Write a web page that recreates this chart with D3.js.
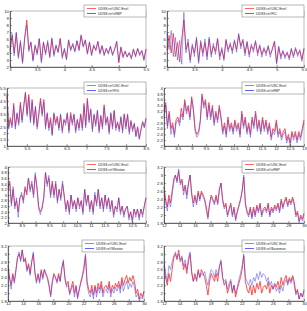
<!DOCTYPE html>
<html>
<head>
<meta charset="utf-8">
<script src="https://cdn.jsdelivr.net/npm/d3@7"></script>
<style>
  body { margin: 0; background: #fff; }
  svg { display: block; font-family: "Liberation Sans", Arial, sans-serif; }
</style>
</head>
<body>
<div id="chart"></div>
<script>
// values, left to right along each panel's x range

// panels 1 and 2 (x 3 - 5.5)
const enelA = [4.4, 6.5, 4.0, 6.8, 3.5, 5.5, 2.7, 6.0, 8.7, 4.5, 5.5, 3.0, 5.0, 4.0, 6.0, 2.8, 5.5, 4.0, 5.5, 3.5, 6.0, 3.8, 5.0, 4.2, 6.1, 3.5, 4.5, 3.2, 5.8, 4.5, 5.2, 4.3, 5.7, 4.5, 6.6, 5.0, 5.8, 4.0, 5.5, 3.8, 5.0, 4.5, 5.6, 4.0, 5.0, 3.8, 4.6, 4.0, 4.9, 3.8, 4.5, 5.7, 2.6, 4.8, 3.5, 4.2, 3.5, 4.0, 3.3, 4.5, 3.6, 4.6, 3.8, 4.3, 3.1, 4.6];
const nfbpA = [4.0, 6.8, 3.6, 7.0, 3.2, 5.8, 2.5, 6.2, 8.0, 4.2, 5.6, 2.8, 5.2, 3.7, 6.1, 2.6, 5.6, 3.7, 5.8, 3.3, 6.2, 3.5, 5.2, 4.0, 6.0, 3.2, 4.7, 3.0, 5.9, 4.3, 5.4, 4.1, 5.8, 4.3, 6.4, 4.8, 5.9, 3.8, 5.6, 3.6, 5.2, 4.3, 5.7, 3.8, 5.1, 3.6, 4.7, 3.8, 5.0, 3.6, 4.6, 5.5, 2.8, 4.9, 3.3, 4.3, 3.4, 4.1, 3.1, 4.6, 3.4, 4.7, 3.6, 4.4, 2.9, 4.5];
const ficB = [6.8, 4.5, 7.2, 3.5, 6.2, 3.0, 5.8, 2.4, 9.8, 4.0, 6.0, 2.6, 5.3, 3.5, 6.3, 2.5, 5.8, 3.5, 6.0, 3.0, 6.3, 3.4, 5.4, 3.8, 5.9, 3.0, 4.8, 2.9, 6.0, 4.1, 5.5, 3.9, 5.9, 4.1, 6.8, 4.6, 6.0, 3.6, 5.7, 3.4, 5.3, 4.1, 5.8, 3.6, 5.2, 3.4, 4.8, 3.6, 5.1, 3.4, 4.7, 5.6, 2.4, 5.0, 3.1, 4.4, 3.2, 4.2, 3.0, 4.7, 3.3, 4.8, 3.5, 4.5, 2.8, 4.7];

// panel 3 (x 5 - 8.5)
const enelC = [4.9, 2.5, 3.2, 2.6, 4.3, 2.5, 3.5, 2.8, 4.4, 3.0, 4.0, 5.1, 3.5, 5.0, 3.0, 4.6, 2.8, 4.0, 2.5, 3.5, 4.7, 3.5, 4.6, 2.5, 3.5, 2.4, 3.2, 1.9, 3.5, 2.8, 3.3, 2.4, 3.4, 2.2, 3.0, 2.8, 3.5, 2.2, 3.6, 2.8, 3.4, 2.2, 3.0, 2.4, 3.5, 2.4, 4.3, 2.6, 4.7, 3.0, 3.8, 2.3, 3.4, 2.7, 3.7, 2.2, 3.3, 2.5, 4.2, 2.8, 3.2, 2.1, 3.5, 2.5, 3.7, 2.4, 2.8, 2.3, 3.2, 2.2, 3.5, 2.5, 3.4, 2.1, 2.9, 2.3, 2.7, 1.8, 2.5, 1.6, 2.3, 2.9, 2.5, 3.1];
const figC = [5.1, 2.3, 3.0, 2.4, 4.1, 2.3, 3.6, 2.6, 4.2, 2.8, 4.2, 5.2, 3.3, 4.8, 2.8, 4.4, 2.6, 4.1, 2.3, 3.4, 4.5, 3.3, 4.4, 2.3, 3.6, 2.2, 3.0, 1.8, 3.6, 2.6, 3.1, 2.2, 3.5, 2.0, 3.1, 2.6, 3.6, 2.0, 3.4, 2.6, 3.5, 2.0, 3.1, 2.2, 3.4, 2.2, 4.1, 2.4, 4.5, 2.8, 3.9, 2.1, 3.5, 2.5, 3.8, 2.0, 3.4, 2.3, 4.0, 2.6, 3.3, 1.9, 3.6, 2.3, 3.8, 2.2, 2.9, 2.1, 3.3, 2.0, 3.4, 2.3, 3.5, 1.9, 3.0, 2.1, 2.8, 1.7, 2.4, 1.5, 2.2, 2.8, 2.4, 3.2];

// panels 4 and 5 (x 8 - 13)
const enelD = [3.2, 3.5, 2.7, 3.2, 2.6, 2.8, 2.4, 2.9, 3.0, 2.8, 3.3, 3.0, 3.6, 3.2, 3.4, 3.0, 3.7, 3.3, 2.6, 2.4, 2.5, 2.9, 3.8, 3.4, 3.6, 3.0, 3.5, 3.0, 3.4, 2.8, 3.2, 2.9, 3.4, 3.0, 2.5, 2.8, 2.4, 3.0, 2.6, 2.8, 2.5, 2.9, 2.6, 2.8, 2.4, 3.2, 2.7, 3.0, 2.5, 2.8, 2.4, 3.0, 2.7, 3.2, 2.6, 2.9, 2.5, 3.0, 2.6, 2.9, 2.5, 2.8, 2.3, 2.6, 2.5, 2.9, 2.4, 2.6, 2.3, 2.5, 2.6, 2.2, 2.4, 2.1, 2.5, 2.3, 2.5, 2.2, 2.5, 2.3, 2.6, 2.9];
const nfbpD = [3.0, 3.4, 2.6, 3.1, 2.4, 2.7, 2.3, 2.8, 2.9, 2.7, 3.1, 2.9, 3.5, 3.1, 3.3, 2.9, 3.6, 3.2, 2.5, 2.3, 2.4, 2.8, 3.7, 3.3, 3.5, 2.9, 3.4, 2.9, 3.3, 2.7, 3.1, 2.8, 3.3, 2.9, 2.4, 2.7, 2.3, 2.9, 2.5, 2.7, 2.4, 2.8, 2.5, 2.7, 2.3, 3.1, 2.6, 2.9, 2.4, 2.7, 2.3, 2.9, 2.6, 3.1, 2.5, 2.8, 2.4, 2.9, 2.5, 2.8, 2.4, 2.7, 2.2, 2.5, 2.4, 2.8, 2.3, 2.5, 2.2, 2.4, 2.5, 2.1, 2.3, 2.0, 2.4, 2.2, 2.4, 2.1, 2.4, 2.2, 2.5, 2.8];
const westonE = [3.3, 3.4, 2.6, 3.3, 2.5, 2.9, 2.2, 2.9, 3.1, 2.7, 3.2, 3.1, 3.6, 3.1, 3.5, 2.9, 3.8, 3.2, 2.5, 2.3, 2.6, 2.9, 3.8, 3.3, 3.7, 2.9, 3.4, 2.9, 3.5, 2.7, 3.2, 2.8, 3.5, 2.9, 2.4, 2.8, 2.3, 3.0, 2.5, 2.8, 2.4, 2.9, 2.5, 2.8, 2.3, 3.2, 2.6, 3.0, 2.4, 2.8, 2.3, 3.1, 2.6, 3.2, 2.5, 2.9, 2.4, 3.0, 2.5, 2.9, 2.4, 2.8, 2.2, 2.6, 2.4, 2.9, 2.3, 2.6, 2.2, 2.5, 2.6, 2.1, 2.4, 2.0, 2.5, 2.2, 2.5, 2.1, 2.5, 2.2, 2.6, 2.9];

// panels 6, 7 and 8 (x 12 - 30)
const enelF = [2.7, 2.4, 2.2, 2.5, 2.3, 2.6, 2.9, 3.0, 2.85, 3.1, 2.8, 2.9, 2.6, 2.75, 2.5, 2.8, 3.0, 2.55, 2.3, 2.5, 2.3, 2.6, 2.4, 2.6, 2.5, 2.4, 2.2, 1.95, 2.3, 2.5, 2.4, 2.3, 2.5, 2.3, 2.65, 2.8, 2.4, 2.2, 2.3, 2.0, 2.15, 2.3, 2.0, 2.2, 1.9, 2.1, 2.25, 2.4, 2.6, 2.95, 2.3, 2.1, 2.0, 2.2, 1.95, 2.2, 2.0, 2.25, 2.1, 2.3, 2.0, 2.15, 2.2, 2.1, 2.3, 2.0, 2.2, 2.1, 2.25, 2.15, 2.3, 2.1, 2.4, 2.2, 2.35, 2.45, 2.25, 2.4, 2.3, 2.45, 2.3, 2.0, 2.1, 1.85, 2.0, 1.9, 2.05];
const nfbpF = [2.6, 2.3, 2.1, 2.4, 2.2, 2.5, 2.8, 3.0, 2.8, 3.15, 2.75, 2.85, 2.5, 2.7, 2.4, 2.75, 3.0, 2.5, 2.2, 2.45, 2.25, 2.55, 2.35, 2.55, 2.45, 2.35, 2.1, 1.9, 2.25, 2.45, 2.35, 2.25, 2.45, 2.25, 2.6, 2.8, 2.35, 2.15, 2.25, 1.95, 2.1, 2.25, 1.95, 2.15, 1.85, 2.05, 2.2, 2.35, 2.6, 3.0, 2.25, 2.05, 1.95, 2.15, 1.9, 2.15, 1.95, 2.2, 2.05, 2.25, 1.95, 2.1, 2.15, 2.05, 2.25, 1.95, 2.15, 2.05, 2.2, 2.1, 2.25, 2.05, 2.35, 2.15, 2.3, 2.4, 2.2, 2.35, 2.25, 2.4, 2.25, 1.95, 2.05, 1.8, 1.95, 1.85, 2.0];
const westonG = [2.6, 2.35, 2.1, 2.45, 2.25, 2.55, 2.9, 3.05, 2.8, 3.1, 2.8, 2.85, 2.55, 2.7, 2.45, 2.8, 3.05, 2.5, 2.25, 2.45, 2.25, 2.55, 2.35, 2.6, 2.45, 2.35, 2.15, 1.9, 2.25, 2.45, 2.4, 2.25, 2.45, 2.3, 2.6, 2.85, 2.35, 2.15, 2.2, 1.95, 2.1, 2.2, 1.9, 2.15, 1.85, 2.05, 2.3, 2.45, 2.7, 3.0, 2.2, 2.0, 1.9, 2.1, 1.85, 2.15, 1.9, 2.15, 2.0, 2.2, 1.9, 2.05, 2.1, 2.0, 2.2, 1.9, 2.1, 2.0, 2.15, 2.05, 2.2, 2.0, 2.3, 2.05, 2.2, 2.3, 2.1, 2.25, 2.15, 2.3, 2.15, 1.9, 2.0, 1.8, 1.9, 1.85, 2.05];
const basemanH = [2.8, 2.5, 2.3, 2.7, 2.6, 2.8, 2.95, 3.05, 2.9, 3.0, 2.85, 2.95, 2.7, 2.85, 2.6, 2.9, 3.05, 2.5, 2.3, 2.4, 2.35, 2.55, 2.4, 2.5, 2.45, 2.55, 2.35, 2.2, 2.45, 2.6, 2.55, 2.4, 2.6, 2.45, 2.7, 2.85, 2.4, 2.3, 2.35, 2.1, 2.25, 2.35, 2.05, 2.2, 2.0, 2.15, 2.35, 2.5, 2.7, 3.0, 2.4, 2.3, 2.2, 2.35, 2.2, 2.4, 2.3, 2.5, 2.35, 2.55, 2.4, 2.5, 2.45, 2.3, 2.4, 2.2, 2.3, 2.1, 2.2, 2.05, 2.15, 2.0, 2.2, 2.05, 2.25, 2.35, 2.2, 2.35, 2.25, 2.4, 2.2, 1.95, 2.05, 1.85, 2.0, 1.9, 2.1];

// tick labels
const xTicks1 = [3, 3.5, 4, 4.5, 5, 5.5];
const xTicks2 = [5, 5.5, 6, 6.5, 7, 7.5, 8, 8.5];
const xTicks3 = [8, 8.5, 9, 9.5, 10, 10.5, 11, 11.5, 12, 12.5, 13];
const xTicks4 = [12, 14, 16, 18, 20, 22, 24, 26, 28, 30];
const yTicks1 = [2, 3, 4, 5, 6, 7, 8, 9, 10];
const yTicks2 = [1, 1.5, 2, 2.5, 3, 3.5, 4, 4.5, 5, 5.5];
const yTicks3 = [2, 2.2, 2.4, 2.6, 2.8, 3, 3.2, 3.4, 3.6, 3.8, 4];
const yTicks4 = [1.8, 2, 2.2, 2.4, 2.6, 2.8, 3, 3.2];

// legend names
const redName = 'UDSS ref USC Enel';
const blueNames = ['UDSS ref nFBP', 'UDSS ref FIC', 'UDSS ref FIG', 'UDSS ref nFBP',
                   'UDSS ref Weston', 'UDSS ref nFBP', 'UDSS ref Weston', 'UDSS ref Baseman'];

const panels = [
  {xt: xTicks1, yt: yTicks1, red: enelA, blue: nfbpA},
  {xt: xTicks1, yt: yTicks1, red: enelA, blue: ficB},
  {xt: xTicks2, yt: yTicks2, red: enelC, blue: figC},
  {xt: xTicks3, yt: yTicks3, red: enelD, blue: nfbpD},
  {xt: xTicks3, yt: yTicks3, red: enelD, blue: westonE},
  {xt: xTicks4, yt: yTicks4, red: enelF, blue: nfbpF},
  {xt: xTicks4, yt: yTicks4, red: enelF, blue: westonG},
  {xt: xTicks4, yt: yTicks4, red: enelF, blue: basemanH}
];

// plot boxes in pixels (left, top, right, bottom)
const boxes = [
  {l: 10, t: 11, r: 146, b: 67},  {l: 167, t: 11, r: 304, b: 67},
  {l: 7,  t: 88, r: 146, b: 146}, {l: 164, t: 88, r: 304, b: 146},
  {l: 8,  t: 167, r: 146, b: 223}, {l: 164, t: 167, r: 304, b: 223},
  {l: 8,  t: 246, r: 144, b: 301}, {l: 164, t: 246, r: 304, b: 301}
];

const width = 307, height = 311;
const redColor = '#ff4040';
const blueColor = '#3c3cf0';

const svg = d3.select('#chart').append('svg')
  .attr('width', width)
  .attr('height', height);

panels.forEach((p, k) => {
  const box = boxes[k];
  const xDom = d3.extent(p.xt), yDom = d3.extent(p.yt);
  const x = d3.scaleLinear().domain(xDom).range([box.l, box.r]);
  const y = d3.scaleLinear().domain(yDom).range([box.b, box.t]);
  const g = svg.append('g');

  g.append('rect')
    .attr('x', box.l).attr('y', box.t)
    .attr('width', box.r - box.l).attr('height', box.b - box.t)
    .attr('fill', '#fff')
    .attr('stroke', '#aaa')
    .attr('stroke-width', 0.8);

  // evenly spaced samples across the x range
  const line = arr => d3.line()
    .x((d, i) => x(xDom[0] + i * (xDom[1] - xDom[0]) / (arr.length - 1)))
    .y(d => y(d))(arr);

  g.append('path').attr('d', line(p.red))
    .attr('fill', 'none').attr('stroke', redColor).attr('stroke-width', 0.9);
  g.append('path').attr('d', line(p.blue))
    .attr('fill', 'none').attr('stroke', blueColor).attr('stroke-width', 0.6)
    .attr('stroke-opacity', 0.8);

  const xa = g.append('g').attr('transform', `translate(0,${box.b})`)
    .call(d3.axisBottom(x).tickValues(p.xt).tickSize(-2).tickSizeOuter(0)
      .tickPadding(1.5).tickFormat(d => d));
  const ya = g.append('g').attr('transform', `translate(${box.l},0)`)
    .call(d3.axisLeft(y).tickValues(p.yt).tickSize(-2).tickSizeOuter(0)
      .tickPadding(1.2).tickFormat(d => d));
  [xa, ya].forEach(a => {
    a.select('.domain').attr('stroke', '#333').attr('stroke-width', 0.7);
    a.selectAll('.tick line').attr('stroke', '#333').attr('stroke-width', 0.5);
    a.selectAll('text').attr('font-size', 4.2).attr('fill', '#222')
      .attr('font-family', '"Liberation Sans", Arial, sans-serif');
  });

  // legend
  const lw = 62, lh = 12;
  const lx = box.r - lw, ly = box.t - 6;
  const lg = g.append('g').attr('transform', `translate(${lx},${ly})`);
  lg.append('rect').attr('width', lw).attr('height', lh)
    .attr('fill', '#fff').attr('stroke', '#888').attr('stroke-width', 0.6);
  [[redName, redColor], [blueNames[k], blueColor]].forEach(([name, c], j) => {
    const yy = 3.5 + j * 5;
    lg.append('line').attr('x1', 3).attr('x2', 12).attr('y1', yy).attr('y2', yy)
      .attr('stroke', c).attr('stroke-width', 0.8);
    lg.append('text').attr('x', 14).attr('y', yy + 1.2)
      .attr('font-size', 3.4).attr('fill', '#222').text(name);
  });
});
</script>
</body>
</html>
